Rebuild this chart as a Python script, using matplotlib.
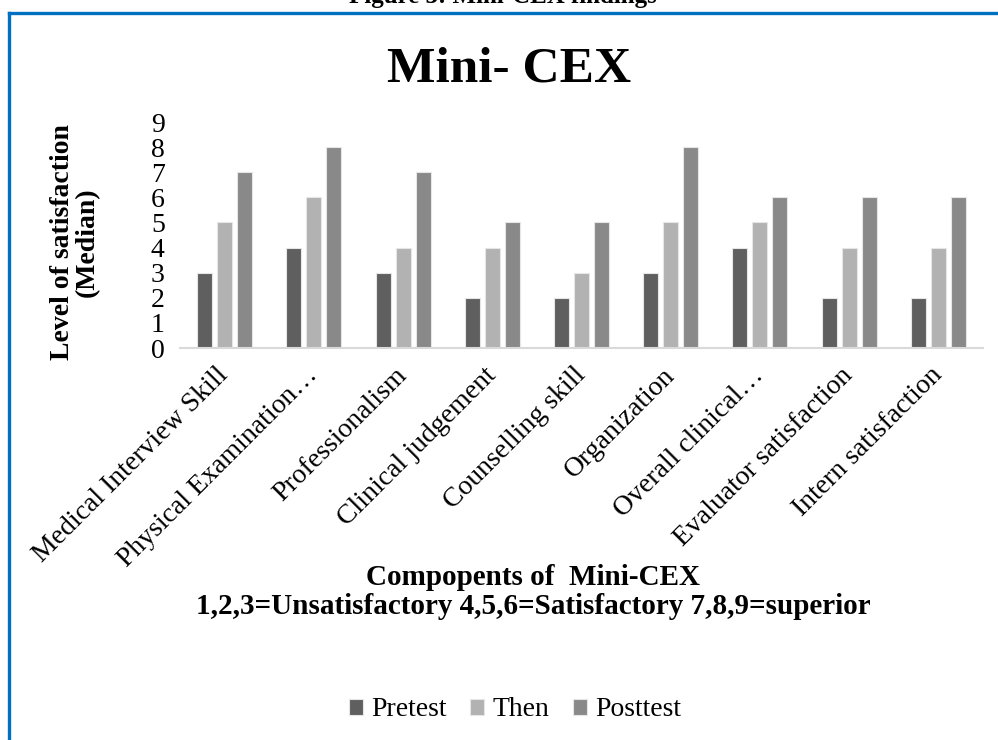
import matplotlib
matplotlib.use("Agg")
import matplotlib.pyplot as plt
from matplotlib.lines import Line2D
import numpy as np

categories = ["Medical Interview Skill", "Physical Examination…", "Professionalism",
              "Clinical judgement", "Counselling skill", "Organization",
              "Overall clinical…", "Evaluator satisfaction", "Intern satisfaction"]
pretest = [3, 4, 3, 2, 2, 3, 4, 2, 2]
then = [5, 6, 4, 4, 3, 5, 5, 4, 4]
posttest = [7, 8, 7, 5, 5, 8, 6, 6, 6]
series_names = ["Pretest", "Then", "Posttest"]
series_colors = ["#5f5f5f", "#b2b2b2", "#898989"]
yticks = list(range(0, 10))

plt.rcParams['font.family'] = ['Liberation Serif', 'DejaVu Serif']

W, H = 998, 740
fig = plt.figure(figsize=(W / 100, H / 100), dpi=100)

def fx(px):
    return px / W

def fy(py):
    return 1 - py / H

ax = fig.add_axes([fx(180), fy(348), fx(983) - fx(180), fy(122) - fy(348)])

x = np.arange(len(categories))
bw = 0.168
off = 0.224
for i, (vals, name, col) in enumerate(zip([pretest, then, posttest], series_names, series_colors)):
    ax.bar(x + (i - 1) * off, vals, width=bw, color=col, edgecolor="#e6e6e6",
           linewidth=0.8, label=name, zorder=2)

ax.set_xlim(-0.5, len(categories) - 0.5)
ax.set_ylim(0, 9)
ax.set_yticks(yticks)
ax.set_yticklabels([str(v) for v in yticks], fontsize=20)
ax.set_xticks(x)
ax.set_xticklabels(categories, rotation=45, ha='right', va='center',
                   rotation_mode='anchor', fontsize=20)
ax.tick_params(axis='y', length=0, pad=11)
ax.tick_params(axis='x', length=0, pad=17)
for s in ['top', 'right', 'left']:
    ax.spines[s].set_visible(False)
ax.spines['bottom'].set_color('#d9d9d9')
ax.spines['bottom'].set_linewidth(1.5)
ax.patch.set_alpha(0)

# Title
fig.text(fx(509), fy(70), "Mini- CEX", ha='center', va='center', fontsize=37,
         fontweight='bold')
# clipped caption at very top
fig.text(fx(503), fy(-3), "Figure 3: Mini-CEX findings", ha='center', va='center',
         fontsize=18, fontweight='bold')

# Y label
fig.text(fx(75), fy(242), "Level of satisfaction\n(Median)", ha='center', va='center',
         rotation=90, fontsize=20, fontweight='bold', linespacing=1.0)

# X label
fig.text(fx(533), fy(592), "Compopents of  Mini-CEX\n1,2,3=Unsatisfactory 4,5,6=Satisfactory 7,8,9=superior",
         ha='center', va='center', fontsize=21, fontweight='bold', linespacing=1.07)

# Legend
handles, labels = ax.get_legend_handles_labels()
leg = fig.legend(handles, labels, loc='center', bbox_to_anchor=(fx(515), fy(710)),
                 ncol=3, frameon=False, fontsize=20, handlelength=0.5,
                 handleheight=0.5, handletextpad=0.3, columnspacing=0.85)

# Blue frame
fig.add_artist(Line2D([fx(8.5), 1.0], [fy(12.5), fy(12.5)], color='#0070C0', linewidth=2.4,
                      transform=fig.transFigure))
fig.add_artist(Line2D([fx(8.5), fx(8.5)], [fy(12.5), 0.0], color='#0070C0', linewidth=2.4,
                      transform=fig.transFigure))

fig.savefig("out.png", dpi=100)
